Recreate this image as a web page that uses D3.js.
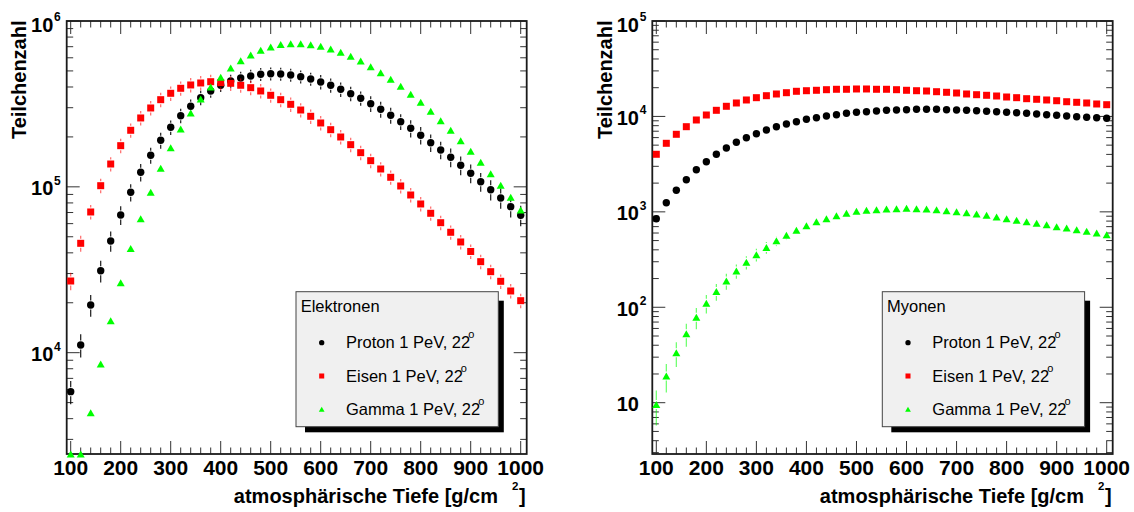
<!DOCTYPE html>
<html><head><meta charset="utf-8">
<script src="https://cdn.jsdelivr.net/npm/d3@7"></script>
<style>body{margin:0;background:#fff}svg{display:block}</style>
</head><body><svg id="c" width="1134" height="512"></svg>
<script>
// ---- data ----
const depths = [100,120,140,160,180,200,220,240,260,280,300,320,340,360,380,400,420,440,460,480,500,520,540,560,580,600,620,640,660,680,700,720,740,760,780,800,820,840,860,880,900,920,940,960,980,1000];
const xTickLabels = [100,200,300,400,500,600,700,800,900,1000];
const seriesNames = ["Proton 1 PeV, 22", "Eisen 1 PeV, 22", "Gamma 1 PeV, 22"];

// Elektronen
const elecProton = [5821,11130,19400,31200,47160,67650,92700,122400,154900,190800,228600,268500,306000,344800,378500,409700,434700,453200,466000,477100,481100,479100,472500,461500,447000,428800,409700,387400,364500,342000,317200,293500,270100,247100,225400,204600,184600,166800,150800,134900,120700,107400,96100,85650,75930,67380];
const elecIron = [27050,45650,70530,101600,137300,177100,219300,260200,298900,335400,366500,392900,411400,422900,430500,424600,421100,409700,396200,378500,356500,335400,314500,290600,266300,242700,221100,199800,179600,160700,143800,128100,114200,101200,89300,78830,69270,60780,53210,46510,40760,35380,30790,26940,23550,20580];
const elecGamma = [1200,2000,4346,8551,15590,26430,42490,64270,92700,129400,172300,223300,278800,338600,399900,457700,520800,576200,623700,665800,697100,721700,729800,729800,719700,704000,678100,647600,612800,573800,530200,487900,445100,403900,361400,323400,285400,250600,219300,189800,163800,140600,120000,102200,86500,72520];
// relative errors in percent
const errElecProton = [16,16,15,15,14,13,12,12,11,11,10,10,10,10,9,9,9,9,9,9,9,9,9,9,9,10,10,10,10,10,11,11,11,11,12,12,12,12,13,13,13,13,14,14,14,14];
const errElecIron = [12,11,10,10,10,10,10,10,10,10,10,10,10,10,10,10,10,10,10,10,10,10,10,10,10,10,10,10,10,10,10,10,10,10,10,10,10,10,10,10,10,10,10,10,10,10];
const errElecGamma = [3,3,3,3,3,3,3,3,3,3,3,3,3,3,3,3,3,3,3,3,3,3,3,3,3,3,3,3,3,3,3,3,3,3,3,3,3,3,3,3,3,3,3,3,3,3];

// Myonen
const muonProton = [848,1247,1682,2173,2765,3354,4011,4669,5356,5986,6592,7208,7806,8331,8806,9330,9698,10100,10420,10780,11050,11180,11400,11590,11680,11760,11870,11870,11870,11760,11680,11590,11480,11320,11210,11050,10940,10780,10600,10420,10270,10100,9936,9793,9698,9559];
const muonIron = [4011,5229,6497,7806,9176,10350,11590,12770,13830,14870,15720,16490,17180,17730,18340,18600,18790,19060,19250,19250,19390,19390,19250,19250,19060,18790,18600,18470,18160,17900,17600,17180,16890,16650,16370,15980,15720,15340,15120,14870,14610,14260,14060,13830,13500,13270];
const muonGamma = [9.6,19.1,33.4,52.9,78.6,110,146,189,240,296,356,423,497,569,641,716,789,848,912,966,1014,1038,1053,1072,1079,1090,1079,1072,1053,1028,1004,980,950,920,883,848,816,789,759,734,699,678,650,626,600,576];
const errMuonProton = [2,2,2,2,2,2,2,2,2,2,2,2,2,2,2,2,2,2,2,2,2,2,2,2,2,2,2,2,2,2,2,2,2,2,2,2,2,2,2,2,2,2,2,2,2,2];
const errMuonIron = [2,2,2,2,2,2,2,2,2,2,2,2,2,2,2,2,2,2,2,2,2,2,2,2,2,2,2,2,2,2,2,2,2,2,2,2,2,2,2,2,2,2,2,2,2,2];
const errMuonGamma = [40,33,29,27,25,22,20,19,17,16,15,14,12,11,10,9,8,8,7,7,7,6,6,6,6,6,6,6,6,6,6,6,6,6,6,6,6,6,6,6,6,6,6,6,6,6];

// ---- drawing ----
const svg = d3.select('#c');
svg.append('rect').attr('width',1134).attr('height',512).attr('fill','#fff');
const FONT = "'Liberation Sans', Arial, Helvetica, sans-serif";
const colors = ['#000000', '#ff0000', '#00ff00'];
const barOpacity = [0.9, 0.6, 0.6];
const shapes = ['circle', 'square', 'triangle'];

function marker(g, shape, cx, cy, color, s) {
  if (shape === 'circle') {
    g.append('circle').attr('cx', cx).attr('cy', cy).attr('r', 3.7*s).attr('fill', color);
  } else if (shape === 'square') {
    const a = 7*s;
    g.append('rect').attr('x', cx-a/2).attr('y', cy-a/2).attr('width', a).attr('height', a).attr('fill', color);
  } else {
    const w = 8*s, h = 7*s;
    g.append('path').attr('d', `M${cx},${cy-h/2}L${cx+w/2},${cy+h/2}L${cx-w/2},${cy+h/2}Z`).attr('fill', color);
  }
}

function drawPanel(p) {
  const x = d3.scaleLinear().domain([92, 1012]).range([p.x0, p.x1]);
  const y = d3.scaleLog().domain(p.yDomain).range([p.y1, p.y0]).clamp(true);
  const g = svg.append('g');

  // ticks
  const tk = g.append('g').attr('stroke', '#333').attr('stroke-width', 1);
  const xMinor = x.ticks(50), xMajor = x.ticks(10);
  xMinor.forEach(v => {
    const L = xMajor.includes(v) ? 13 : 6.5, px = x(v);
    tk.append('line').attr('x1', px).attr('x2', px).attr('y1', p.y1).attr('y2', p.y1 - L);
    tk.append('line').attr('x1', px).attr('x2', px).attr('y1', p.y0).attr('y2', p.y0 + L);
  });
  const yT = y.ticks();
  const isMajor = v => Math.abs(Math.log10(v) - Math.round(Math.log10(v))) < 1e-9;
  yT.forEach(v => {
    const L = isMajor(v) ? 13 : 6.5, py = y(v);
    tk.append('line').attr('x1', p.x0).attr('x2', p.x0 + L).attr('y1', py).attr('y2', py);
    tk.append('line').attr('x1', p.x1).attr('x2', p.x1 - L).attr('y1', py).attr('y2', py);
  });

  // frame
  g.append('rect').attr('x', p.x0).attr('y', p.y0).attr('width', p.x1 - p.x0).attr('height', p.y1 - p.y0)
    .attr('fill', 'none').attr('stroke', '#1a1a1a').attr('stroke-width', 1.8);

  // x tick labels
  xTickLabels.forEach(v => {
    g.append('text').attr('x', x(v)).attr('y', 475).attr('text-anchor', 'middle')
      .attr('font-family', FONT).attr('font-weight', 'bold').attr('font-size', 21).text(v);
  });
  // y tick labels
  yT.filter(isMajor).forEach(v => {
    const e = Math.round(Math.log10(v));
    const base = Math.max(y(v) + 8.5, p.y0 + 10.5);
    g.append('text').attr('x', p.x0 - 13.4).attr('y', base).attr('text-anchor', 'end')
      .attr('font-family', FONT).attr('font-weight', 'bold').attr('font-size', 20).text('10');
    if (e !== 1) {
      g.append('text').attr('x', p.x0 - 12.6).attr('y', base - 10.5).attr('text-anchor', 'start')
        .attr('font-family', FONT).attr('font-weight', 'bold').attr('font-size', 12).text(e);
    }
  });

  // axis titles
  const tt = g.append('g').attr('font-family', FONT).attr('font-weight', 'bold').attr('fill', '#000');
  tt.append('text').attr('x', p.x1 - 28.7).attr('y', 502.7).attr('text-anchor', 'end').attr('font-size', 20)
    .text('atmosphärische Tiefe [g/cm');
  tt.append('text').attr('x', p.x1 - 8.4).attr('y', 489.5).attr('text-anchor', 'end').attr('font-size', 11.5).text('2');
  tt.append('text').attr('x', p.x1 - 1).attr('y', 502.7).attr('text-anchor', 'end').attr('font-size', 20).text(']');
  tt.append('text').attr('transform', `translate(${p.x0 - 40.6},${p.y0 - 0.5}) rotate(-90)`)
    .attr('text-anchor', 'end').attr('font-size', 20).text('Teilchenzahl');

  // data
  p.series.forEach((s, si) => {
    const sg = g.append('g');
    const col = colors[si];
    const gap = 4.5;
    s.values.forEach((v, i) => {
      const cx = x(depths[i]), cy = y(v);
      const rel = s.err[i] / 100;
      const yu = y(v * (1 + rel)), yd = y(v * (1 - rel));
      if (cy - yu > gap) sg.append('line').attr('x1', cx).attr('x2', cx).attr('y1', cy - gap).attr('y2', yu)
        .attr('stroke', col).attr('stroke-width', 1.2).attr('stroke-opacity', barOpacity[si]);
      if (yd - cy > gap && v > p.yDomain[0]) sg.append('line').attr('x1', cx).attr('x2', cx).attr('y1', cy + gap).attr('y2', yd)
        .attr('stroke', col).attr('stroke-width', 1.2).attr('stroke-opacity', barOpacity[si]);
    });
    s.values.forEach((v, i) => marker(sg, shapes[si], x(depths[i]), y(v), col, 1));
  });

  // legend
  const bx = p.lx, by = 291.7, bw = 202.3, bh = 135;
  const lg = g.append('g');
  lg.append('rect').attr('x', bx + 9).attr('y', by + 9).attr('width', bw - 3.5).attr('height', bh - 3.4).attr('fill', '#000');
  lg.append('rect').attr('x', bx).attr('y', by).attr('width', bw).attr('height', bh)
    .attr('fill', '#f0f0f0').attr('stroke', '#444').attr('stroke-width', 1);
  lg.append('text').attr('x', bx + 4.7).attr('y', by + 20).attr('font-family', FONT).attr('font-size', 16.5).text(p.title);
  seriesNames.forEach((nm, si) => {
    const base = by + 56.6 + si * 33.3;
    marker(lg, shapes[si], bx + 25.7, base - 5.6, colors[si], 0.72);
    const t = lg.append('text').attr('x', bx + 50).attr('y', base).attr('font-family', FONT).attr('font-size', 16.5);
    t.append('tspan').text(nm);
    t.append('tspan').attr('font-size', 11).attr('dx', -2).attr('dy', -10).text('o');
  });
}

drawPanel({x0: 66.7, x1: 526.7, y0: 21, y1: 454, yDomain: [2449, 1e6], lx: 296, title: 'Elektronen',
  series: [{values: elecProton, err: errElecProton}, {values: elecIron, err: errElecIron}, {values: elecGamma, err: errElecGamma}]});
drawPanel({x0: 652.3, x1: 1112.7, y0: 21, y1: 454, yDomain: [2.9, 1e5], lx: 882.3, title: 'Myonen',
  series: [{values: muonProton, err: errMuonProton}, {values: muonIron, err: errMuonIron}, {values: muonGamma, err: errMuonGamma}]});
</script>
</body></html>
